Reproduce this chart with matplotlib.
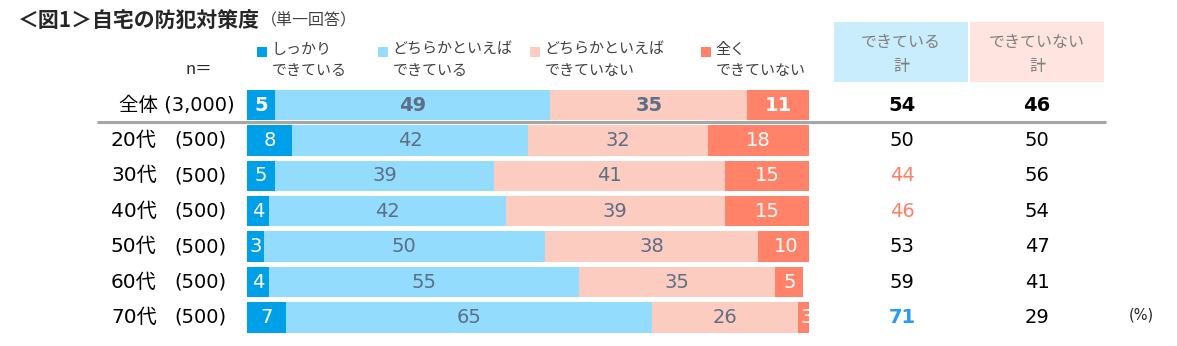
import matplotlib
matplotlib.use('Agg')
import matplotlib.pyplot as plt
import matplotlib.transforms as mtransforms
from matplotlib.patches import Rectangle

plt.rcParams['font.family'] = ['DejaVu Sans', 'Noto Sans CJK JP']
JP = ['Noto Sans CJK JP', 'DejaVu Sans']

# survey data (%)
groups = ['全体', '20代', '30代', '40代', '50代', '60代', '70代']
n_labels = ['(3,000)', '(500)', '(500)', '(500)', '(500)', '(500)', '(500)']
well_done = [5, 8, 5, 4, 3, 4, 7]
fairly_done = [49, 42, 39, 42, 50, 55, 65]
fairly_not = [35, 32, 41, 39, 38, 35, 26]
not_at_all = [11, 18, 15, 15, 10, 5, 3]
total_done = [54, 50, 44, 46, 53, 59, 71]
total_not = [46, 50, 56, 54, 47, 41, 29]

legend_labels = ['しっかり\nできている', 'どちらかといえば\nできている',
                 'どちらかといえば\nできていない', '全く\nできていない']

COLORS = ['#00A0E9', '#94DCFD', '#FDCCC1', '#FF8269']
LABEL_COLORS = ['white', '#5B6F86', '#5B6F86', 'white']
HIGH = '#2A9BF2'
LOW = '#FF7F66'

W, H = 1177, 346


def fx(x):
    return x / W


def fy(y):
    return 1 - y / H


fig = plt.figure(figsize=(W / 100, H / 100), dpi=100)

# bar area
top, bottom = 87.3, 335.2
ax = fig.add_axes([fx(247), fy(bottom), (809 - 247) / W, (bottom - top) / H])
ax.set_xlim(0, 100)
ax.set_ylim(len(groups) - 0.5, -0.5)
ax.axis('off')

series = [well_done, fairly_done, fairly_not, not_at_all]
rows = range(len(groups))
left = [0] * len(groups)
for k, vals in enumerate(series):
    ax.barh(rows, vals, left=left, height=0.86, color=COLORS[k], linewidth=0)
    for i, v in enumerate(vals):
        ax.text(left[i] + v / 2, i, str(v), ha='center', va='center',
                color=LABEL_COLORS[k], fontsize=14,
                fontweight='bold' if i == 0 else 'normal')
    left = [a + b for a, b in zip(left, vals)]

trans = mtransforms.blended_transform_factory(fig.transFigure, ax.transData)

# row labels
for i in rows:
    if i == 0:
        ax.text(fx(235), i, groups[i] + ' ' + n_labels[i], transform=trans,
                ha='right', va='center', fontsize=14, color='black')
    else:
        ax.text(fx(111), i, groups[i], transform=trans,
                ha='left', va='center', fontsize=14.5, color='black')
        ax.text(fx(226), i, n_labels[i], transform=trans,
                ha='right', va='center', fontsize=14, color='black')

# totals columns
for i in rows:
    c1, w1 = 'black', 'normal'
    if i == 0:
        w1 = 'bold'
    elif total_done[i] < 50:
        c1 = LOW
    elif total_done[i] >= 70:
        c1, w1 = HIGH, 'bold'
    ax.text(fx(902), i, str(total_done[i]), transform=trans, ha='center',
            va='center', fontsize=14, color=c1, fontweight=w1)
    ax.text(fx(1037), i, str(total_not[i]), transform=trans, ha='center',
            va='center', fontsize=14, color='black',
            fontweight='bold' if i == 0 else 'normal')

# separator under the total row
ax.plot([fx(97), fx(1106)], [0.49, 0.49], transform=trans, color='#A6A6A6',
        lw=2.2, clip_on=False, solid_capstyle='butt')

# header boxes
fig.patches.append(Rectangle((fx(834), fy(82)), (968 - 834) / W, 60 / H,
                             transform=fig.transFigure, color='#C9EDFD', lw=0))
fig.patches.append(Rectangle((fx(970), fy(82)), (1104 - 970) / W, 60 / H,
                             transform=fig.transFigure, color='#FFE4DF', lw=0))
fig.text(fx(901), fy(42), 'できている', ha='center', va='center',
         fontsize=11.5, color='#7F7F7F', family=JP)
fig.text(fx(901), fy(67), '計', ha='center', va='center',
         fontsize=11.5, color='#7F7F7F', family=JP)
fig.text(fx(1037), fy(42), 'できていない', ha='center', va='center',
         fontsize=11.5, color='#7F7F7F', family=JP)
fig.text(fx(1037), fy(67), '計', ha='center', va='center',
         fontsize=11.5, color='#7F7F7F', family=JP)

# legend
legend_x = [262, 383, 535, 706]
for k, lx in enumerate(legend_x):
    fig.patches.append(Rectangle((fx(lx - 5), fy(57)), 10 / W, 10 / H,
                                 transform=fig.transFigure,
                                 color=COLORS[k], lw=0))
    first, second = legend_labels[k].split('\n')
    fig.text(fx(lx + 9), fy(50), first, ha='left', va='center',
             fontsize=10.8, color='#404040', family=JP)
    fig.text(fx(lx + 10), fy(71), second, ha='left', va='center',
             fontsize=10.8, color='#404040', family=JP)

fig.text(fx(199), fy(70), 'n＝', ha='center', va='center', fontsize=12,
         color='#262626', family=JP)

# title
fig.text(fx(18), fy(20), '＜図1＞自宅の防犯対策度', ha='left', va='center',
         fontsize=15, fontweight='bold', color='#262626', family=JP)
fig.text(fx(261), fy(21), '（単一回答）', ha='left', va='center',
         fontsize=11.5, color='#404040', family=JP)

fig.text(fx(1141), fy(315), '(%)', ha='center', va='center', fontsize=10.5,
         color='#262626')

fig.savefig('out.png', dpi=100)
